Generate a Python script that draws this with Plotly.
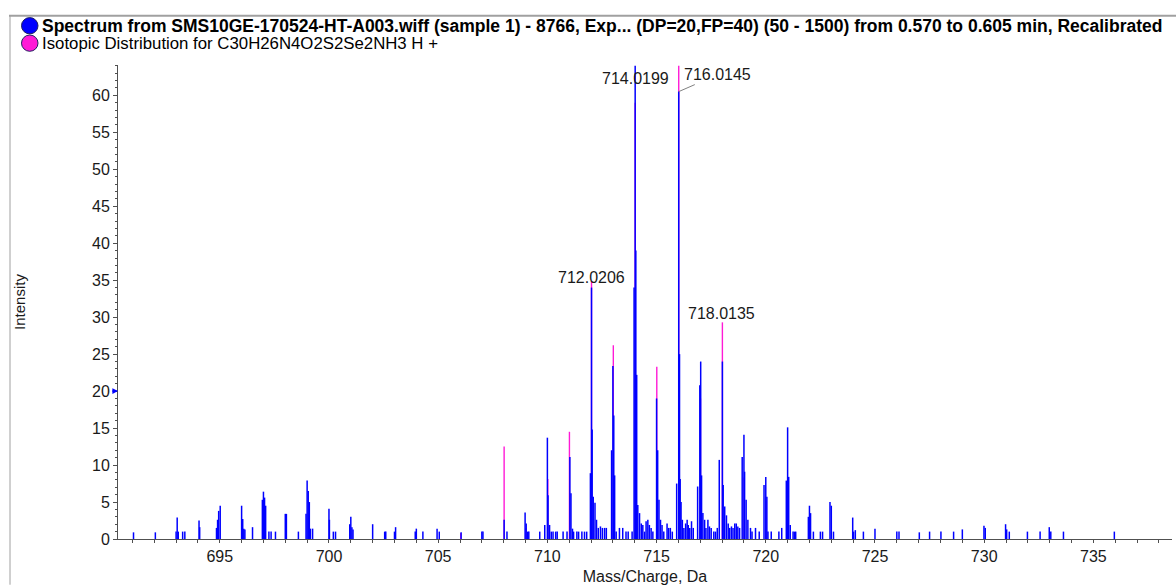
import plotly.graph_objects as go

# ---- measured spectrum (m/z, intensity) ----
spec_mz = [
    691.05, 692.05, 693.0, 693.05, 693.1, 693.3, 693.4, 694.05, 694.08,
    694.85, 694.9, 694.95, 695.02, 696.0, 696.05, 696.1, 696.15, 696.5,
    696.95, 697.0, 697.05, 697.1, 697.25, 697.35, 697.55, 698.0, 698.05,
    698.6, 698.95, 699.0, 699.05, 699.1, 699.15, 699.25, 700.0, 700.02,
    700.2, 700.3, 700.95, 701.0, 701.05, 701.1, 702.0, 702.55, 702.6,
    703.0, 703.05, 703.95, 704.0, 704.3, 704.95, 705.05, 706.05, 707.0, 707.05,
    708.02, 708.15, 708.98, 709.03, 709.1, 709.15, 709.65, 709.88,
    710.0, 710.03, 710.1, 710.18, 710.26, 710.38, 710.45, 710.72, 710.9,
    711.03, 711.08, 711.15, 711.2, 711.35, 711.43, 711.58, 711.7, 711.8,
    711.97, 712.0206, 712.05, 712.1, 712.18, 712.25, 712.33, 712.43, 712.52, 712.62, 712.7,
    712.94, 713.0, 713.04, 713.08, 713.15, 713.3, 713.45, 713.6, 713.7,
    713.88, 713.97, 714.0199, 714.05, 714.09, 714.14, 714.22, 714.3, 714.37,
    714.45, 714.52, 714.6, 714.67, 714.75, 714.83,
    715.0, 715.05, 715.11, 715.18, 715.25, 715.33, 715.48, 715.55, 715.63, 715.72,
    715.92, 716.0145, 716.05, 716.08, 716.12, 716.18, 716.25, 716.33, 716.4,
    716.45, 716.52, 716.6, 716.68,
    716.88, 716.98, 717.02, 717.06, 717.12, 717.2, 717.26, 717.35, 717.42,
    717.5, 717.62, 717.7, 717.78,
    717.87, 718.0135, 718.05, 718.12, 718.2, 718.28, 718.35, 718.43, 718.5,
    718.58, 718.65, 718.72, 718.8,
    718.92, 719.0, 719.03, 719.1, 719.18, 719.3, 719.37, 719.53, 719.7,
    719.92, 720.0, 720.05, 720.1, 720.25,
    720.6, 720.73, 720.94, 721.0, 721.05, 721.12, 721.25, 721.32, 721.37,
    721.95, 722.0, 722.05, 722.18, 722.5, 722.6,
    722.94, 723.0, 723.1,
    723.98, 724.02, 724.1, 724.47, 725.0, 726.0, 726.1, 727.03, 727.5,
    728.02, 728.6, 729.0, 729.99, 730.05, 730.98, 731.03, 731.15, 731.98,
    732.56, 732.98, 733.05, 733.63, 735.96,
]
spec_int = [
    0.9, 0.9, 1.0, 2.9, 1.0, 1.0, 1.0, 2.5, 1.6,
    1.5, 2.6, 3.8, 4.5, 4.5, 2.7, 1.4, 1.3, 1.6,
    5.3, 6.4, 5.6, 4.5, 1.0, 1.0, 1.0, 3.4, 3.4,
    1.0, 3.4, 7.9, 6.5, 5.0, 1.4, 1.4, 4.1, 2.6,
    1.0, 1.0, 2.0, 3.0, 1.6, 1.3, 2.0, 1.0, 1.0,
    1.0, 1.6, 1.0, 1.4, 1.0, 1.4, 1.0, 0.9, 1.0, 1.0,
    2.6, 1.0, 3.6, 2.1, 1.0, 1.0, 1.0, 1.9,
    13.7, 5.9, 1.9, 1.0, 1.0, 1.0, 1.0, 1.0, 1.0,
    11.1, 6.2, 1.4, 1.0, 1.0, 1.0, 1.0, 1.0, 1.0,
    8.9, 34.0, 14.8, 5.7, 4.9, 2.6, 1.5, 1.7, 1.5, 1.5, 1.5,
    12.0, 23.4, 16.7, 8.6, 1.0, 1.5, 1.5, 1.0, 1.0,
    1.0, 34.0, 64.0, 39.0, 22.2, 4.6, 3.5, 2.1, 1.9,
    1.0, 2.4, 2.6, 1.9, 1.5, 1.0,
    19.0, 12.0, 5.3, 2.6, 1.9, 1.0, 2.1, 1.5, 1.5, 1.0,
    7.5, 60.5, 25.0, 8.1, 5.0, 2.6, 1.5, 2.1, 2.6,
    1.9, 1.5, 2.4, 1.5,
    7.1, 20.8, 24.0, 8.6, 3.5, 2.6, 1.5, 2.6, 1.7,
    1.5, 1.0, 1.0, 1.5,
    10.7, 24.0, 7.3, 4.4, 3.2, 2.1, 1.5, 1.7, 1.5,
    2.1, 2.1, 1.7, 1.5,
    11.1, 14.1, 9.1, 5.3, 2.6, 1.5, 1.0, 1.5, 1.0,
    7.3, 8.4, 5.7, 1.0, 1.0,
    1.0, 1.5, 7.9, 15.1, 8.4, 1.9, 1.0, 1.0, 1.0,
    3.0, 4.5, 3.5, 1.0, 1.0, 1.0,
    5.0, 4.5, 1.0,
    2.9, 1.0, 1.2, 1.0, 1.4, 1.0, 1.0, 0.9, 1.0,
    1.0, 1.0, 1.3, 1.8, 1.5, 2.0, 1.3, 1.0, 1.0,
    1.0, 1.6, 1.0, 1.0, 1.0,
]

# ---- theoretical isotopic distribution ----
iso_mz = [706.03, 708.02, 709.02, 710.02, 711.01, 712.0206, 713.02, 714.0199,
          715.01, 716.0145, 717.01, 718.0135, 719.01, 720.01, 721.01, 722.01]
iso_int = [0.8, 12.5, 1.5, 8.1, 14.5, 34.9, 26.2, 59.0,
           23.3, 64.0, 19.0, 29.3, 8.3, 5.2, 1.8, 1.0]

# ---- peak labels ----
label_mz = [712.0206, 714.0199, 716.0145, 718.0135]
label_int = [34.9, 64.0, 60.5, 29.3]

spec_title = ("Spectrum from SMS10GE-170524-HT-A003.wiff (sample 1) - 8766, Exp... "
              "(DP=20,FP=40) (50 - 1500) from 0.570 to 0.605 min, Recalibrated")
iso_title = "Isotopic Distribution for C30H26N4O2S2Se2NH3 H +"

BLUE = "#0000ff"
MAGENTA = "#ff1ad6"
FONT = "Liberation Sans, Arial, sans-serif"

W, H = 1176, 586
ML, MR, MT, MB = 118, 4, 65, 44
PW, PH = W - ML - MR, H - MT - MB


def px_x(px):
    return (px - ML) / PW


def px_y(py):
    return (H - MB - py) / PH


def sticks(mz, inten):
    xs, ys = [], []
    for m, v in zip(mz, inten):
        xs += [m, m, None]
        ys += [0, v, None]
    return xs, ys


fig = go.Figure()

ix, iy = sticks(iso_mz, iso_int)
fig.add_trace(go.Scatter(x=ix, y=iy, mode="lines", name=iso_title,
                         line=dict(color=MAGENTA, width=1.4),
                         hoverinfo="skip", showlegend=False))

sx, sy = sticks(spec_mz, spec_int)
fig.add_trace(go.Scatter(x=sx, y=sy, mode="lines", name=spec_title,
                         line=dict(color=BLUE, width=1.5),
                         hoverinfo="skip", showlegend=False))

annotations = []
# peak labels
offsets = {0: (0, 3), 1: (0, -13), 3: (-1, 9)}
for i, (m, v) in enumerate(zip(label_mz, label_int)):
    txt = f"{m:.4f}"
    if i == 2:
        annotations.append(dict(x=m, y=v, text=txt, showarrow=True, arrowhead=0,
                                arrowwidth=1, arrowcolor="#808080", ax=39, ay=-17,
                                standoff=0, font=dict(size=16, family=FONT, color="#1a1a1a")))
    else:
        dx, dy = offsets[i]
        annotations.append(dict(x=m, y=v, text=txt, showarrow=False, xanchor="center",
                                yanchor="middle", xshift=dx, yshift=dy,
                                font=dict(size=16, family=FONT, color="#1a1a1a")))

# threshold marker on the intensity axis
annotations.append(dict(x=0, xref="paper", y=20, yref="y", text="", showarrow=True,
                        arrowhead=2, arrowsize=0.7, arrowwidth=1.6, arrowcolor=BLUE,
                        ax=-7, ay=0, standoff=0))

# legend rows
annotations.append(dict(x=px_x(40), y=px_y(25.5), xref="paper", yref="paper",
                        text="<b>" + spec_title + "</b>", showarrow=False,
                        xanchor="left", yanchor="middle",
                        font=dict(size=17.5, family=FONT, color="#000000")))
annotations.append(dict(x=px_x(40), y=px_y(43), xref="paper", yref="paper",
                        text=iso_title, showarrow=False,
                        xanchor="left", yanchor="middle",
                        font=dict(size=16.8, family=FONT, color="#000000")))

shapes = []
for cy, col in ((25.5, BLUE), (43, MAGENTA)):
    shapes.append(dict(type="circle", xref="paper", yref="paper",
                       x0=px_x(21.5), x1=px_x(38), y0=px_y(cy + 8.2), y1=px_y(cy - 8.2),
                       fillcolor=col, line=dict(color="#202060", width=1)))
# outer frame
shapes.append(dict(type="line", xref="paper", yref="paper",
                   x0=px_x(9), x1=px_x(W + 2), y0=px_y(15.5), y1=px_y(15.5),
                   line=dict(color="#a0a0a0", width=2)))
shapes.append(dict(type="line", xref="paper", yref="paper",
                   x0=px_x(10), x1=px_x(10), y0=px_y(15.5), y1=px_y(H + 2),
                   line=dict(color="#a0a0a0", width=1)))

fig.update_layout(
    width=W, height=H,
    margin=dict(l=ML, r=MR, t=MT, b=MB),
    plot_bgcolor="white", paper_bgcolor="white",
    showlegend=False,
    font=dict(family=FONT, size=16, color="#1a1a1a"),
    annotations=annotations,
    shapes=shapes,
)

fig.update_xaxes(
    range=[690.34, 738.6], dtick=5, tick0=695,
    showline=True, linecolor="#505050", linewidth=1,
    ticks="outside", ticklen=3, tickcolor="#505050",
    minor=dict(dtick=1, ticks="outside", ticklen=3, tickcolor="#505050"),
    showgrid=False, zeroline=False,
    tickfont=dict(size=16, family=FONT, color="#1a1a1a"),
    title=dict(text="Mass/Charge, Da", standoff=6,
               font=dict(size=16, family=FONT, color="#1a1a1a")),
)
fig.update_yaxes(
    range=[0, 64.1], dtick=5,
    showline=True, linecolor="#505050", linewidth=1,
    ticks="outside", ticklen=4, tickcolor="#505050",
    minor=dict(dtick=1, ticks="outside", ticklen=2, tickcolor="#505050"),
    showgrid=False, zeroline=False,
    tickfont=dict(size=16, family=FONT, color="#1a1a1a"),
    title=dict(text="Intensity", standoff=62,
               font=dict(size=15, family=FONT, color="#1a1a1a")),
)

fig.write_html("out.html")
